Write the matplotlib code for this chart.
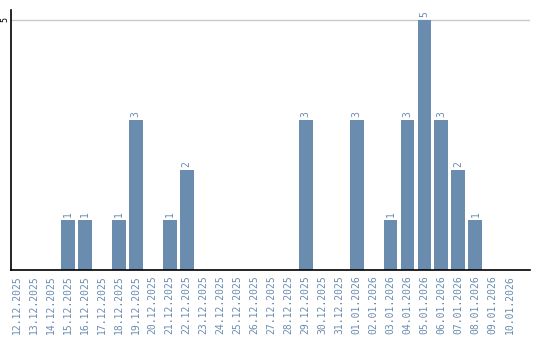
import numpy as np
import matplotlib.pyplot as plt

dates = ["12.12.2025", "13.12.2025", "14.12.2025", "15.12.2025", "16.12.2025",
         "17.12.2025", "18.12.2025", "19.12.2025", "20.12.2025", "21.12.2025",
         "22.12.2025", "23.12.2025", "24.12.2025", "25.12.2025", "26.12.2025",
         "27.12.2025", "28.12.2025", "29.12.2025", "30.12.2025", "31.12.2025",
         "01.01.2026", "02.01.2026", "03.01.2026", "04.01.2026", "05.01.2026",
         "06.01.2026", "07.01.2026", "08.01.2026", "09.01.2026", "10.01.2026"]
counts = [0, 0, 0, 1, 1, 0, 1, 3, 0, 1, 2, 0, 0, 0, 0, 0, 0, 3, 0, 0,
          3, 0, 1, 3, 5, 3, 2, 1, 0, 0]

blue = "#6a8caf"

fig = plt.figure(figsize=(5.4, 3.4), dpi=100)
ax = fig.add_axes([0.0204, 0.206, 0.9606, 0.765])

x = np.arange(len(dates))
ax.bar(x, counts, width=0.82, color=blue, zorder=2)
for xi, c in zip(x, counts):
    if c > 0:
        ax.text(xi, c + 0.05, str(c), rotation=90, ha="center", va="bottom",
                color=blue, fontsize=7, family="DejaVu Sans Mono")

ax.set_xlim(-0.35, 30.2)
ax.set_ylim(0, 5.2)
ax.set_yticks([5])
ax.set_yticklabels(["5"], rotation=90, va="center", ha="right", fontsize=6,
                   family="DejaVu Sans Mono")
ax.set_xticks(x)
ax.set_xticklabels(dates, rotation=90, color=blue, fontsize=7,
                   family="DejaVu Sans Mono")
ax.tick_params(length=0, pad=4)
ax.tick_params(axis="y", pad=1)
ax.grid(axis="y", color="#c8c8c8", linewidth=1, zorder=0)
ax.spines["top"].set_visible(False)
ax.spines["right"].set_visible(False)
ax.spines["left"].set_linewidth(1.2)
ax.spines["bottom"].set_linewidth(1.2)

fig.savefig("out.png", dpi=100)
